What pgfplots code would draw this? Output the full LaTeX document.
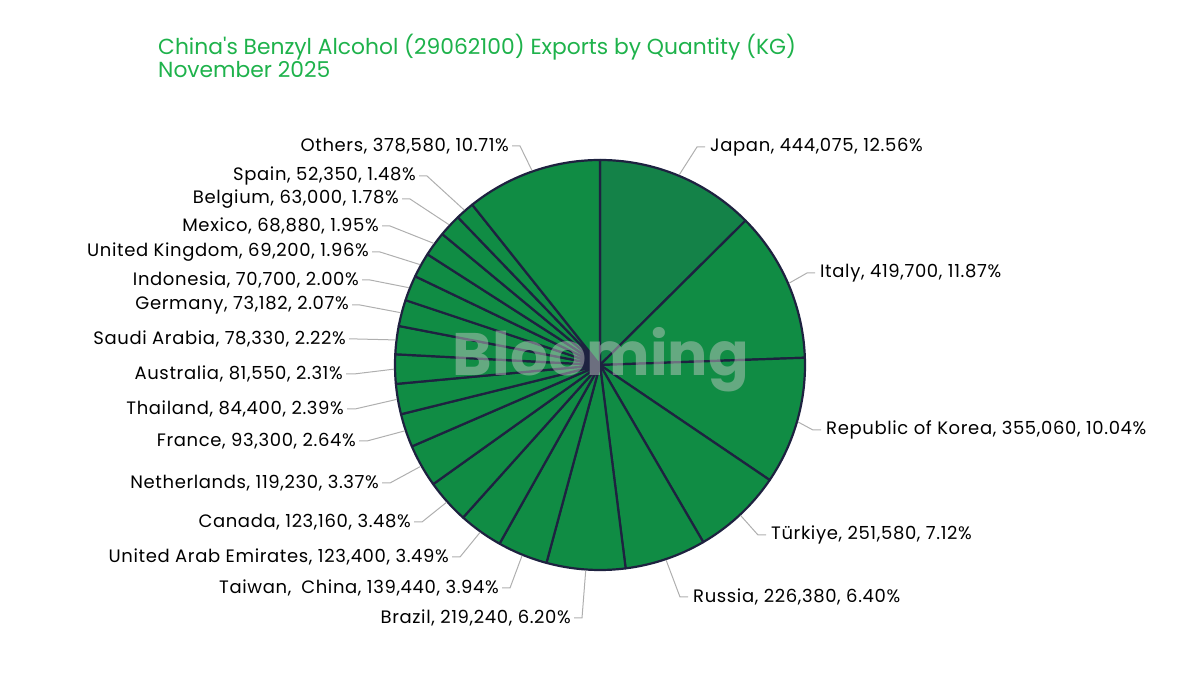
\documentclass[border=0pt]{standalone}
\usepackage{pgfplots}
\pgfplotsset{compat=1.18}
\usepackage{pgfplotstable}
\usepackage{fontspec}
\setmainfont{Poppins}
\definecolor{titlegreen}{RGB}{30,178,75}
\definecolor{wjapan}{RGB}{20,130,72}
\definecolor{wother}{RGB}{16,140,68}
\definecolor{edge}{RGB}{30,34,64}
\definecolor{leader}{RGB}{175,175,175}
\definecolor{wm}{RGB}{205,205,205}

% name; value (KG); share (%); leader elbow x,y (px from top-left); side; colour
\pgfplotstableread[col sep=semicolon]{
name;value;pct;ex;ey;side;col
Japan;444075;12.56;697;147;r;wjapan
Italy;419700;11.87;807;273;r;wother
Republic of Korea;355060;10.04;813;430;r;wother
Türkiye;251580;7.12;758;535;r;wother
Russia;226380;6.40;680;597;r;wother
Brazil;219240;6.20;582;618;l;wother
Taiwan,\hspace{0.55em}China;139440;3.94;510;588;l;wother
United Arab Emirates;123400;3.49;460;557;l;wother
Canada;123160;3.48;422;522;l;wother
Netherlands;119230;3.37;390;483;l;wother
France;93300;2.64;367;441;l;wother
Thailand;84400;2.39;355;409;l;wother
Australia;81550;2.31;354;374;l;wother
Saudi Arabia;78330;2.22;357;339;l;wother
Germany;73182;2.07;360;305;l;wother
Indonesia;70700;2.00;370;280;l;wother
United Kingdom;69200;1.96;380;252;l;wother
Mexico;68880;1.95;390;226;l;wother
Belgium;63000;1.78;410;199;l;wother
Spain;52350;1.48;427;176;l;wother
Others;378580;10.71;520;146;l;wother
}\piedata

\newcommand\fpucalc[2]{% #1 macro, #2 expression
  \begingroup
  \pgfkeys{/pgf/fpu=true,/pgf/fpu/output format=fixed}%
  \pgfmathparse{#2}%
  \xdef\fpuresult{\pgfmathresult}%
  \endgroup
  \let#1\fpuresult}

% total in thousands of KG
\gdef\total{0}
\foreach \i in {0,...,20}{%
  \pgfplotstablegetelem{\i}{value}\of\piedata
  \fpucalc\tmp{\total+\pgfplotsretval/1000}%
  \global\let\total\tmp
}

\newcommand\lblfont{\fontsize{18}{20}\selectfont\addfontfeature{LetterSpace=3.5}}
\newcommand\lbltext[1]{%
  \pgfplotstablegetelem{#1}{name}\of\piedata\pgfplotsretval, %
  \pgfplotstablegetelem{#1}{value}\of\piedata
  \pgfmathprintnumber[fixed,precision=0,1000 sep={,},assume math mode=true]{\pgfplotsretval}, %
  \pgfplotstablegetelem{#1}{pct}\of\piedata\pgfplotsretval\%}

\gdef\cum{0}
\begin{document}
\begin{tikzpicture}
\begin{axis}[x=1pt,y=1pt,xmin=0,xmax=1200,ymin=0,ymax=674,
  hide axis, clip=false]
\path (axis cs:0,0) rectangle (axis cs:1200,674);
\pgfplotsinvokeforeach{0,...,20}{
  \pgfplotstablegetelem{#1}{value}\of\piedata
  \fpucalc\ang{\pgfplotsretval/1000/\total*360}
  \pgfmathsetmacro\aS{90-\cum}
  \pgfmathsetmacro\aE{90-\cum-\ang}
  \pgfmathsetmacro\aM{90-\cum-\ang/2}
  \pgfmathsetmacro\newcum{\cum+\ang}\global\let\cum\newcum
  \pgfplotstablegetelem{#1}{col}\of\piedata \let\wcol\pgfplotsretval
  \edef\temp{\noexpand\addplot[fill=\wcol, draw=edge, line width=2.2pt, line join=round,
     domain=\aE:\aS, samples=60] ({600+205*cos(x)},{309+205*sin(x)}) -- (axis cs:600,309) -- cycle;}
  \temp
  % leader line and label
  \pgfplotstablegetelem{#1}{ex}\of\piedata \let\ex\pgfplotsretval
  \pgfplotstablegetelem{#1}{ey}\of\piedata \pgfmathsetmacro\ey{674-\pgfplotsretval}
  \pgfplotstablegetelem{#1}{side}\of\piedata \let\sd\pgfplotsretval
  \pgfmathsetmacro\px{600+206*cos(\aM)}
  \pgfmathsetmacro\py{309+206*sin(\aM)}
  \if r\sd
    \pgfmathsetmacro\hx{\ex+8}\pgfmathsetmacro\tx{\ex+13}\def\anc{west}
  \else
    \pgfmathsetmacro\hx{\ex-8}\pgfmathsetmacro\tx{\ex-11}\def\anc{east}
  \fi
  \edef\temp{\noexpand\draw[leader, line width=1pt] (axis cs:\px,\py) -- (axis cs:\ex,\ey) -- (axis cs:\hx,\ey);
    \noexpand\node[anchor=\anc, inner sep=0pt, font=\noexpand\lblfont, text=black]
      at (axis cs:\tx,\ey) {\noexpand\lbltext{#1}};}
  \temp
}
\node[anchor=center, font=\fontsize{60}{64}\selectfont\bfseries, text=wm, opacity=0.45]
  at (axis cs:601,674-360) {Blooming};
\node[anchor=base west, inner sep=0pt, font=\fontsize{21.8}{24}\selectfont, text=titlegreen]
  at (axis cs:158,674-55) {China\textquotesingle s Benzyl Alcohol (29062100) Exports by Quantity (KG)};
\node[anchor=base west, inner sep=0pt, font=\fontsize{21.8}{24}\selectfont, text=titlegreen]
  at (axis cs:158,674-78) {November 2025};
\end{axis}
\end{tikzpicture}
\end{document}
